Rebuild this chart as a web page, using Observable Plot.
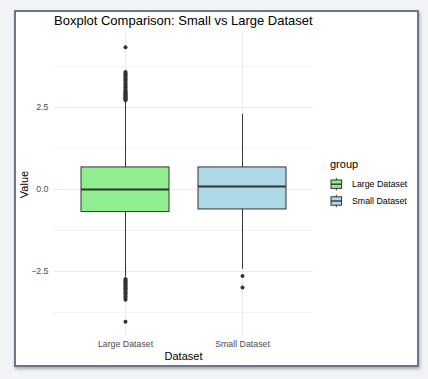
<!DOCTYPE html>
<html><head><meta charset="utf-8">
<script src="https://cdn.jsdelivr.net/npm/d3@7"></script>
<script src="https://cdn.jsdelivr.net/npm/@observablehq/plot@0.6"></script>
<style>
html,body{margin:0;padding:0;background:#f2f3f5;width:428px;height:379px;overflow:hidden;}
#card{position:absolute;left:14px;top:10px;width:405px;height:357px;box-sizing:border-box;background:#fff;border:2px solid #6a7590;box-shadow:1px 2px 3px rgba(0,0,0,0.3);}
#chart{position:absolute;left:0;top:0;}
#labels{position:absolute;left:0;top:0;}
</style></head><body>
<div id="card"></div>
<div id="chart"></div>
<svg id="labels" width="428" height="379" font-family="Liberation Sans, Arial, sans-serif"></svg>
<script>
const groups = ["Large Dataset", "Small Dataset"];
const fills = ["#90ee90", "#add8e6"];
const lowerWhisker = [-2.67, -2.43];
const q1 = [-0.69, -0.61];
const median = [0.00, 0.09];
const q3 = [0.67, 0.67];
const upperWhisker = [2.66, 2.28];
const largeOutliers = [4.33, 3.58, 3.55, 3.51, 3.47, 3.43, 3.39, 3.35, 3.31, 3.27, 3.23, 3.19, 3.15, 3.11, 3.07, 3.03, 2.99, 2.96, 2.93, 2.90, 2.87, 2.84, 2.81, 2.78, 2.75, 2.72,
  -2.73, -2.76, -2.79, -2.82, -2.85, -2.88, -2.91, -2.94, -2.97, -3.01, -3.05, -3.09, -3.13, -3.17, -3.21, -3.26, -3.31, -3.36, -4.03];
const smallOutliers = [-2.64, -2.99];
const yMajorTicks = [-2.5, 0, 2.5];
const yMinorTicks = [-3.75, -1.25, 1.25, 3.75];
const yDomain = [-4.45, 4.75];
const title = "Boxplot Comparison: Small vs Large Dataset";
const xTitle = "Dataset";
const yTitle = "Value";
const legendTitle = "group";

const boxes = groups.map((g, i) => ({group: g, lo: lowerWhisker[i], q1: q1[i], med: median[i], q3: q3[i], hi: upperWhisker[i]}));
const outliers = [
  ...largeOutliers.map(v => ({group: groups[0], value: v})),
  ...smallOutliers.map(v => ({group: groups[1], value: v}))
];

const chart = Plot.plot({
  width: 428, height: 379,
  marginLeft: 54, marginRight: 115, marginTop: 33, marginBottom: 44,
  style: {background: "transparent", fontFamily: "Liberation Sans, Arial, sans-serif", fontSize: "8.8px"},
  x: {domain: groups, paddingInner: 0.25, paddingOuter: 0.225, align: 0.5},
  y: {domain: yDomain},
  color: {type: "ordinal", domain: groups, range: fills},
  marks: [
    Plot.ruleY(yMinorTicks, {stroke: "#ebebeb", strokeWidth: 0.6}),
    Plot.ruleY(yMajorTicks, {stroke: "#ebebeb", strokeWidth: 1}),
    Plot.ruleX(groups, {stroke: "#ebebeb", strokeWidth: 1}),
    Plot.ruleX(boxes, {x: "group", y1: "lo", y2: "hi", stroke: "#333333", strokeWidth: 1}),
    Plot.barY(boxes, {x: "group", y1: "q1", y2: "q3", fill: "group", stroke: "#333333", strokeWidth: 1}),
    Plot.tickY(boxes, {x: "group", y: "med", stroke: "#333333", strokeWidth: 2}),
    Plot.dot(outliers, {x: "group", y: "value", r: 2, fill: "#333333"}),
    Plot.axisY({ticks: yMajorTicks, tickFormat: d3.format(".1f"), tickSize: 0, tickPadding: 6, label: null, fill: "#4d4d4d"}),
    Plot.axisX({tickSize: 0, tickPadding: 5, label: null, fill: "#4d4d4d"})
  ]
});
document.getElementById("chart").appendChild(chart);

// Titles and legend
const svg = d3.select("#labels");
svg.append("text").attr("x", 54).attr("y", 24.7).attr("font-size", 13).attr("fill", "#000").text(title);
svg.append("text").attr("x", 183.5).attr("y", 360).attr("text-anchor", "middle").attr("font-size", 11).attr("fill", "#000").text(xTitle);
svg.append("text").attr("transform", "translate(28.3,184.5) rotate(-90)").attr("text-anchor", "middle").attr("font-size", 11).attr("fill", "#000").text(yTitle);
svg.append("text").attr("x", 330).attr("y", 167.8).attr("font-size", 11).attr("fill", "#000").text(legendTitle);
groups.forEach((g, i) => {
  const cy = 184.2 + i * 16.8;
  const k = svg.append("g");
  k.append("line").attr("x1", 336.3).attr("x2", 336.3).attr("y1", cy - 6.2).attr("y2", cy + 6.2).attr("stroke", "#333").attr("stroke-width", 1);
  k.append("rect").attr("x", 331).attr("y", cy - 4.2).attr("width", 10.6).attr("height", 8.4).attr("fill", fills[i]).attr("stroke", "#333").attr("stroke-width", 1);
  k.append("line").attr("x1", 331).attr("x2", 341.6).attr("y1", cy).attr("y2", cy).attr("stroke", "#333").attr("stroke-width", 1.4);
  svg.append("text").attr("x", 352).attr("y", cy + 3).attr("font-size", 8.8).attr("fill", "#000").text(g);
});
</script>
</body></html>
